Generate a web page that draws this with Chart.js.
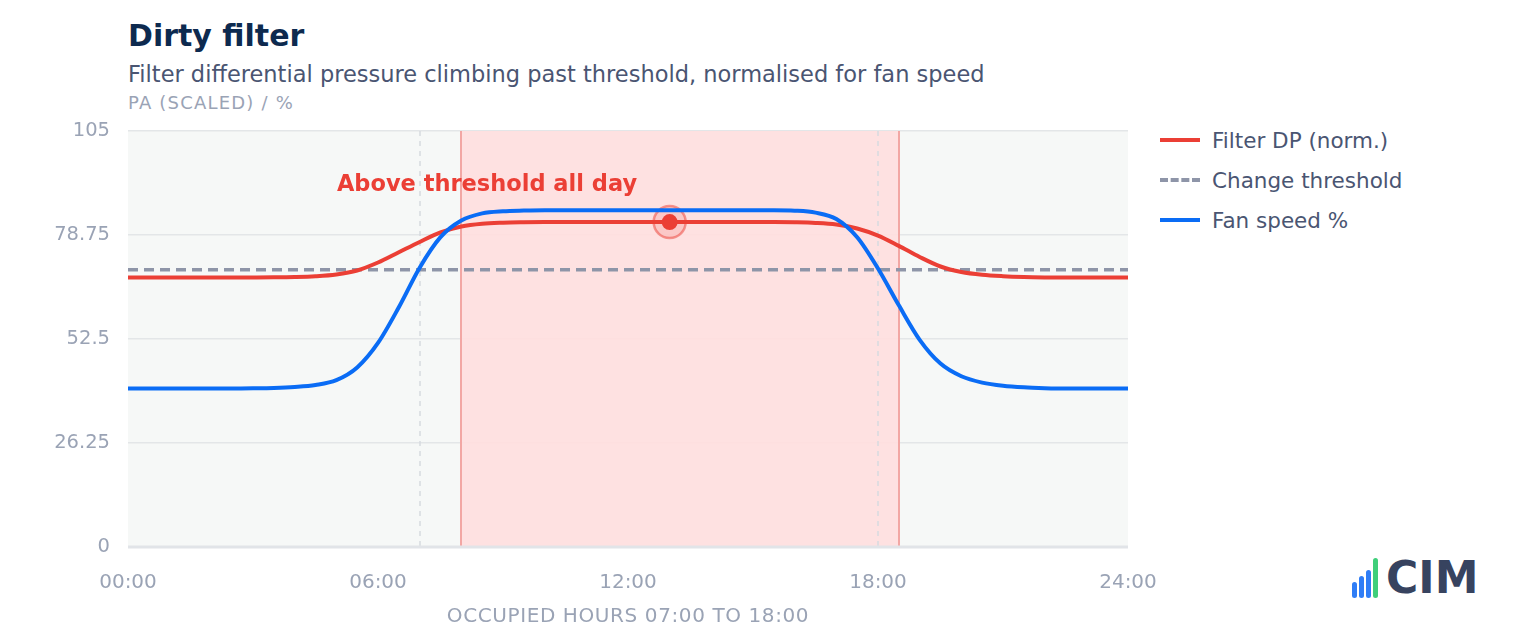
<!DOCTYPE html>
<html>
<head>
<meta charset="utf-8">
<script src="https://cdn.jsdelivr.net/npm/chart.js@4"></script>
<style>
  body { margin: 0; width: 1520px; height: 640px; background: #fff; font-family: "DejaVu Sans", sans-serif; position: relative; overflow: hidden; }
  #title { position: absolute; left: 128px; top: 18px; font-size: 30px; font-weight: bold; color: #0d2a4f; }
  #sub { position: absolute; left: 128px; top: 61px; font-size: 22.5px; color: #4a5572; }
  #unit { position: absolute; left: 128px; top: 92px; font-size: 18px; color: #9aa3b5; letter-spacing: 1.2px; }
  #xtitle { position: absolute; left: 128px; width: 1000px; top: 603px; text-align: center; font-size: 20px; color: #9aa3b5; letter-spacing: 0.6px; }
  #wrap { position: absolute; left: 0; top: 0; width: 1160px; height: 640px; }
  #legend { position: absolute; left: 1160px; top: 120px; font-size: 21.5px; color: #4a5572; }
  .li { display: flex; align-items: center; height: 40px; }
  .sw { width: 40px; height: 0; margin-right: 12px; border-top: 4px solid; }
  #logo { position: absolute; left: 1352px; top: 558px; display: flex; align-items: flex-end; }
  #logo .b { width: 5px; margin-right: 2px; border-radius: 3px; }
  #logo span { font-size: 44px; font-weight: bold; color: #37435f; margin-left: 6px; line-height: 40px; }
</style>
</head>
<body>
<div id="title">Dirty filter</div>
<div id="sub">Filter differential pressure climbing past threshold, normalised for fan speed</div>
<div id="unit">PA (SCALED) / %</div>
<div id="wrap"><canvas id="c"></canvas></div>
<div id="xtitle">OCCUPIED HOURS 07:00 TO 18:00</div>
<div id="legend">
  <div class="li"><div class="sw" style="border-color:#eb3f35"></div>Filter DP (norm.)</div>
  <div class="li"><div class="sw" style="border-top:4px dashed #8e95a8"></div>Change threshold</div>
  <div class="li"><div class="sw" style="border-color:#0a6cf5"></div>Fan speed %</div>
</div>
<div id="logo">
  <div class="b" style="height:16px;background:#2f7df6"></div>
  <div class="b" style="height:22px;background:#2f7df6"></div>
  <div class="b" style="height:28px;background:#2f7df6"></div>
  <div class="b" style="height:40px;background:#3fcf7a"></div>
  <span>CIM</span>
</div>
<script>
// stunden (x-achse)
const stunden = [0,0.5,1,1.5,2,2.5,3,3.5,4,4.5,5,5.5,6,6.5,7,7.5,8,8.5,9,9.5,10,10.5,11,11.5,12,12.5,13,13.5,14,14.5,15,15.5,16,16.5,17,17.5,18,18.5,19,19.5,20,20.5,21,21.5,22,22.5,23,23.5,24];
const filterDP = [68,68,68,68,68,68,68.02,68.06,68.15,68.35,68.8,69.8,71.8,74.4,77,79.4,80.9,81.6,81.85,81.95,82,82,82,82,82,82,82,82,82,82,82,82,81.95,81.8,81.4,80.4,78.6,76,73.2,70.8,69.4,68.7,68.35,68.15,68.05,68,68,68,68];
const luefter = [40,40,40,40,40,40,40.05,40.15,40.4,40.9,42.1,45.3,51.5,60.5,70.5,78.2,82.4,84.2,84.75,84.92,85,85,85,85,85,85,85,85,85,85,85,85,84.9,84.4,82.8,78.2,70.3,61,52.3,46.3,43.1,41.5,40.7,40.3,40.1,40,40,40,40];
const schwelle = 70;
const belegtVon = 7, belegtBis = 18;
const bandVon = 8, bandBis = 18.5;
const markerX = [13], markerY = [82];
const yTicks = [0, 26.25, 52.5, 78.75, 105];

const deko = {
  id: 'deko',
  beforeDatasetsDraw(chart) {
    const { ctx, chartArea: a, scales: { x, y } } = chart;
    ctx.save();
    // band
    ctx.fillStyle = 'rgba(255,222,222,0.9)';
    ctx.fillRect(x.getPixelForValue(bandVon), a.top, x.getPixelForValue(bandBis) - x.getPixelForValue(bandVon), a.bottom - a.top);
    ctx.strokeStyle = '#f2a7a4'; ctx.lineWidth = 2;
    [bandVon, bandBis].forEach(v => {
      const px = Math.round(x.getPixelForValue(v));
      ctx.beginPath(); ctx.moveTo(px, a.top); ctx.lineTo(px, a.bottom); ctx.stroke();
    });
    // belegt-linien
    ctx.strokeStyle = '#d6dadf'; ctx.lineWidth = 1.5; ctx.setLineDash([5, 5]);
    [belegtVon, belegtBis].forEach(v => {
      const px = Math.round(x.getPixelForValue(v));
      ctx.beginPath(); ctx.moveTo(px, a.top); ctx.lineTo(px, a.bottom); ctx.stroke();
    });
    ctx.setLineDash([]);
    // bodenlinie
    ctx.strokeStyle = '#e1e4e8'; ctx.lineWidth = 3;
    ctx.beginPath(); ctx.moveTo(a.left, a.bottom); ctx.lineTo(a.right, a.bottom); ctx.stroke();
    // halo
    const mx = x.getPixelForValue(markerX[0]), my = y.getPixelForValue(markerY[0]);
    ctx.fillStyle = 'rgba(235,63,53,0.15)'; ctx.strokeStyle = 'rgba(235,63,53,0.5)'; ctx.lineWidth = 2.5;
    ctx.beginPath(); ctx.arc(mx, my, 16, 0, Math.PI * 2); ctx.fill(); ctx.stroke();
    // annotation
    ctx.fillStyle = '#eb3f35'; ctx.font = 'bold 22.5px "DejaVu Sans"'; ctx.textAlign = 'center'; ctx.textBaseline = 'middle';
    ctx.fillText('Above threshold all day', 487, 185);
    ctx.restore();
  }
};
const hintergrund = {
  id: 'hintergrund',
  beforeDraw(chart) {
    const { ctx, chartArea: a } = chart;
    ctx.save(); ctx.fillStyle = '#f6f8f7';
    ctx.fillRect(a.left, a.top, a.right - a.left, a.bottom - a.top);
    ctx.restore();
  }
};

new Chart(document.getElementById('c'), {
  type: 'line',
  data: {
    datasets: [
      { label: 'Marker', data: markerX.map((v, i) => ({ x: v, y: markerY[i] })), showLine: false, pointRadius: 8, backgroundColor: '#eb3f35', borderWidth: 0 },
      { label: 'Fan speed %', data: stunden.map((h, i) => ({ x: h, y: luefter[i] })), borderColor: '#0a6cf5', borderWidth: 4, pointRadius: 0, cubicInterpolationMode: 'monotone' },
      { label: 'Filter DP (norm.)', data: stunden.map((h, i) => ({ x: h, y: filterDP[i] })), borderColor: '#eb3f35', borderWidth: 4, pointRadius: 0, cubicInterpolationMode: 'monotone' },
      { label: 'Change threshold', data: [{ x: 0, y: schwelle }, { x: 24, y: schwelle }], borderColor: '#8e95a8', borderWidth: 3.5, borderDash: [10, 6], pointRadius: 0 }
    ]
  },
  options: {
    responsive: true, maintainAspectRatio: false, animation: false,
    layout: { padding: { top: 131, right: 0, left: 0, bottom: 0 } },
    scales: {
      x: {
        type: 'linear', min: 0, max: 24,
        afterFit: s => { s.height = 93; s.paddingRight = 32; },
        afterBuildTicks: s => { s.ticks = [0, 6, 12, 18, 24].map(v => ({ value: v })); },
        ticks: { callback: v => String(v).padStart(2, '0') + ':00', color: '#9aa3b5', font: { size: 20, family: 'DejaVu Sans' }, padding: 16, maxRotation: 0 },
        grid: { display: false }, border: { display: false }
      },
      y: {
        min: 0, max: 105,
        afterFit: s => { s.width = 128; },
        afterBuildTicks: s => { s.ticks = yTicks.map(v => ({ value: v })); },
        ticks: { callback: v => String(v), color: '#9aa3b5', font: { size: 19.5, family: 'DejaVu Sans' }, padding: 18 },
        grid: { color: '#e3e6e8', lineWidth: 1.5, drawTicks: false }, border: { display: false }
      }
    },
    plugins: { legend: { display: false }, tooltip: { enabled: false } }
  },
  plugins: [hintergrund, deko]
});
</script>
</body>
</html>
